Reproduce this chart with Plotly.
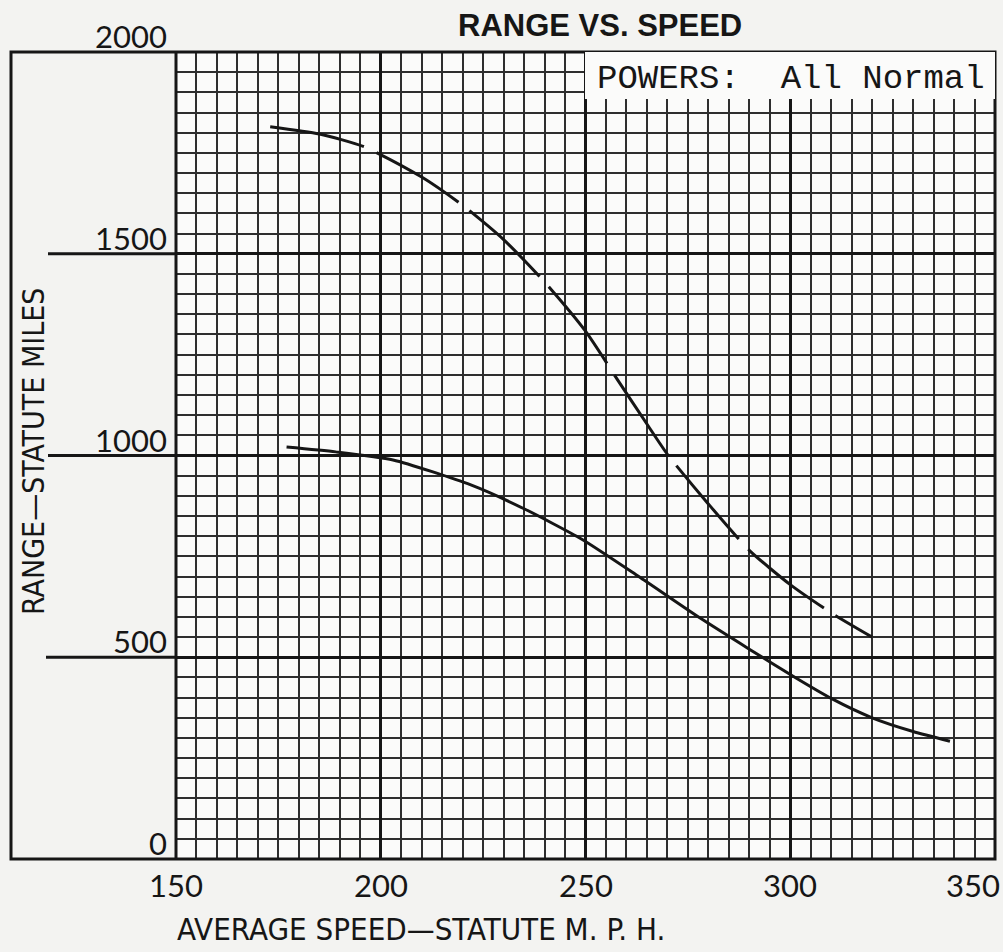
import plotly.graph_objects as go

# Range vs. speed, all engine powers normal
speed_upper = [173, 185, 196, 210, 220, 230, 240, 250, 258, 265, 270, 280, 290, 300, 310, 320]
range_upper = [1815, 1797, 1765, 1690, 1620, 1535, 1430, 1308, 1185, 1078, 1003, 880, 765, 680, 610, 550]

speed_lower = [177, 189, 203, 222, 235, 249, 263, 278, 290, 301, 310, 320, 330, 339]
range_lower = [1021, 1009, 989, 927, 868, 793, 700, 597, 520, 451, 398, 350, 316, 292]

x_ticks = [150, 200, 250, 300, 350]
y_ticks = [0, 500, 1000, 1500, 2000]

X_RANGE = [150, 350]
Y_RANGE = [0, 2000]

W, H = 1003, 952
ML, MR, MT, MB = 176, 8, 52, 93
PW = W - ML - MR
PH = H - MT - MB


def px_x(p):
    """Pixel column -> paper x fraction."""
    return (p - ML) / PW


def px_y(p):
    """Pixel row -> paper y fraction."""
    return (H - MB - p) / PH


def val_y(v):
    return (v - Y_RANGE[0]) / (Y_RANGE[1] - Y_RANGE[0])


INK = "#161616"
DIGIT_FONT = dict(family="Lato, Liberation Sans, sans-serif", size=31, color=INK)
NARROW = "Liberation Sans Narrow, DejaVu Sans Condensed, sans-serif"

fig = go.Figure()

fig.add_trace(go.Scatter(
    x=speed_upper, y=range_upper, mode="lines",
    line=dict(color=INK, width=3, shape="spline", smoothing=0.6, dash="96px,14px"),
    hoverinfo="x+y", showlegend=False,
))
fig.add_trace(go.Scatter(
    x=speed_lower, y=range_lower, mode="lines",
    line=dict(color=INK, width=3, shape="spline", smoothing=0.6),
    hoverinfo="x+y", showlegend=False,
))

shapes = []
# outer frame, extending left of the grid
shapes.append(dict(type="rect", xref="paper", yref="paper",
                   x0=px_x(11), x1=1, y0=0, y1=1,
                   line=dict(color=INK, width=3), layer="above"))
# major range lines carried out into the margin
for v, start in [(500, 46), (1000, 48), (1500, 48)]:
    shapes.append(dict(type="line", xref="paper", yref="paper",
                       x0=px_x(start), x1=0, y0=val_y(v), y1=val_y(v),
                       line=dict(color=INK, width=3), layer="above"))
# left edge of the grid
shapes.append(dict(type="line", xref="paper", yref="paper",
                   x0=0, x1=0, y0=0, y1=1,
                   line=dict(color=INK, width=3), layer="above"))
# blank label panel at top right
shapes.append(dict(type="rect", xref="paper", yref="paper",
                   x0=px_x(585), x1=1, y0=px_y(99), y1=1,
                   fillcolor="#fbfbfa", line=dict(width=0), layer="above"))

annotations = []
for v in y_ticks:
    annotations.append(dict(
        text=str(v), xref="paper", yref="y", x=px_x(169), y=v,
        xanchor="right", yanchor="bottom", yshift=-5, showarrow=False,
        font=DIGIT_FONT,
    ))
for v in x_ticks:
    last = v == x_ticks[-1]
    annotations.append(dict(
        text=str(v), xref="x", yref="paper", x=v, y=0,
        xanchor="right" if last else "center", xshift=7 if last else 0,
        yanchor="top", yshift=-5, showarrow=False, font=DIGIT_FONT,
    ))

annotations.append(dict(
    text="<b>RANGE VS. SPEED</b>", xref="paper", yref="paper",
    x=px_x(600), y=px_y(25), xanchor="center", yanchor="middle",
    showarrow=False,
    font=dict(family="Liberation Sans, Arial, sans-serif", size=31, color=INK),
))
annotations.append(dict(
    text="RANGE\u2014STATUTE MILES", xref="paper", yref="paper",
    x=px_x(33), y=px_y(452), xanchor="center", yanchor="middle",
    textangle=-90, showarrow=False,
    font=dict(family=NARROW, size=30, color=INK),
))
annotations.append(dict(
    text="AVERAGE SPEED\u2014STATUTE M. P. H.", xref="paper", yref="paper",
    x=px_x(175), y=px_y(929), xanchor="left", yanchor="middle",
    showarrow=False,
    font=dict(family=NARROW, size=31, color=INK),
))
annotations.append(dict(
    text="POWERS:\u00a0\u00a0All Normal", xref="paper", yref="paper",
    x=px_x(595), y=px_y(79), xanchor="left", yanchor="middle",
    showarrow=False,
    font=dict(family="Liberation Mono, Courier New, monospace", size=34, color=INK),
))

fig.update_layout(
    width=W, height=H,
    margin=dict(l=ML, r=MR, t=MT, b=MB, pad=0),
    paper_bgcolor="#f3f3f1",
    plot_bgcolor="#fbfbfa",
    shapes=shapes,
    annotations=annotations,
    showlegend=False,
    xaxis=dict(
        range=X_RANGE, dtick=50, tick0=150, showticklabels=False, ticks="",
        showgrid=True, gridcolor=INK, gridwidth=3, zeroline=False,
        minor=dict(dtick=5, tick0=150, showgrid=True, gridcolor="#2e2e2e", gridwidth=2),
        showline=False, fixedrange=True,
    ),
    yaxis=dict(
        range=Y_RANGE, dtick=500, tick0=0, showticklabels=False, ticks="",
        showgrid=True, gridcolor=INK, gridwidth=3, zeroline=False,
        minor=dict(dtick=50, tick0=0, showgrid=True, gridcolor="#2e2e2e", gridwidth=2),
        showline=False, fixedrange=True,
    ),
)

fig.write_html("out.html")
